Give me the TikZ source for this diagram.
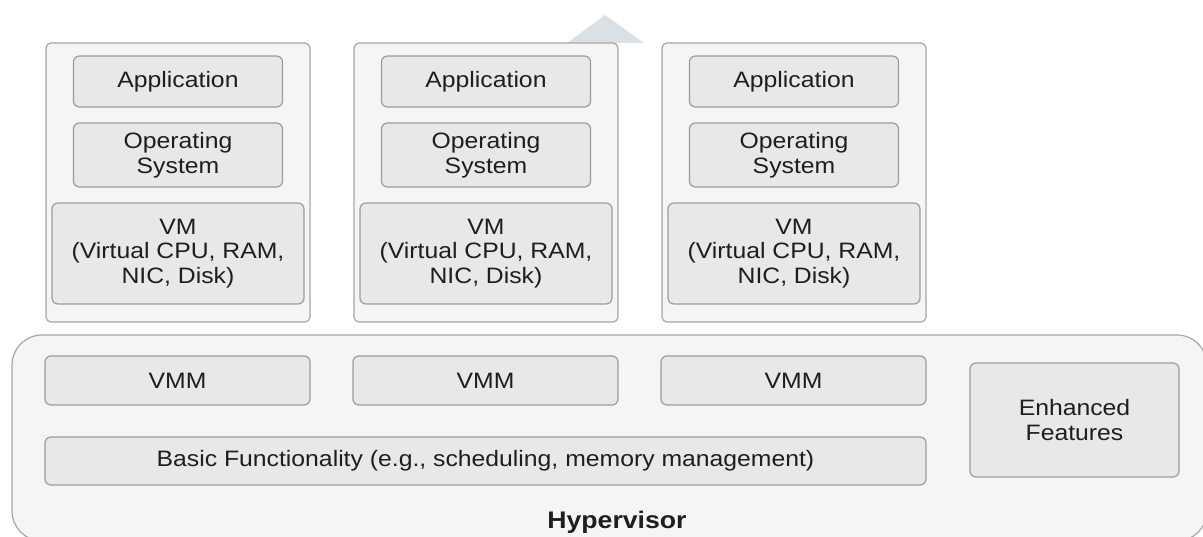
\documentclass[tikz,border=0pt]{standalone}
\usepackage{fontspec}
\setmainfont{Liberation Sans}[FakeStretch=1.11]
\definecolor{outerfill}{HTML}{F5F5F5}
\definecolor{outerline}{HTML}{A6A6A6}
\definecolor{innerfill}{HTML}{E8E8E8}
\definecolor{innerline}{HTML}{9C9C9C}
\definecolor{txt}{HTML}{1E1E1E}
\definecolor{tri}{HTML}{D9E1E6}
\begin{document}
\begin{tikzpicture}[x=1pt,y=-1pt,
  container/.style={draw=outerline, fill=outerfill, line width=1.2pt, rounded corners=5pt, minimum width=264pt, minimum height=279pt, inner sep=0pt},
  inbox/.style={draw=innerline, fill=innerfill, line width=1.2pt, rounded corners=6pt, inner sep=0pt, align=center, text=txt, font=\fontsize{22.3}{24.5}\selectfont},
  hyper/.style={draw=outerline, fill=outerfill, line width=1.2pt, rounded corners=30pt, minimum width=1195pt, minimum height=206pt, inner sep=0pt},
  lbl/.style={text=txt, font=\fontsize{24}{28}\selectfont\bfseries, inner sep=0pt, anchor=base}
]
\useasboundingbox (0,0) rectangle (1203,537);
% arrow head behind the containers
\fill[tri] (567,43) coordinate (t1) -- (605,15) coordinate (t2) -- (644,43) coordinate (t3) -- cycle;
% containers
\foreach \i/\L in {1/46, 2/354, 3/662} {
  \node[container] (c\i) at (\L+132,182.5) {};
  \node[inbox, minimum width=209pt, minimum height=51pt] (app\i) at (\L+132,81.5) {Application};
  \node[inbox, minimum width=209pt, minimum height=64pt] (os\i) at (\L+132,155) {Operating\\System};
  \node[inbox, minimum width=252pt, minimum height=101pt] (vm\i) at (\L+132,253.5) {VM\\(Virtual CPU, RAM,\\NIC, Disk)};
}
% hypervisor
\node[hyper] (hv) at (609.5,438) {};
\foreach \i/\L in {1/45, 2/353, 3/661} {
  \node[inbox, minimum width=265pt, minimum height=49pt] (vmm\i) at (\L+132.5,380.5) {VMM};
}
\node[inbox, minimum width=881pt, minimum height=48pt] (basic) at (485.5,461) {Basic Functionality (e.g., scheduling, memory management)};
\node[inbox, minimum width=209pt, minimum height=114pt] (enh) at (1074.5,420) {Enhanced\\Features};
\node[lbl] (hvl) at (617,528) {Hypervisor};
\end{tikzpicture}
\end{document}
